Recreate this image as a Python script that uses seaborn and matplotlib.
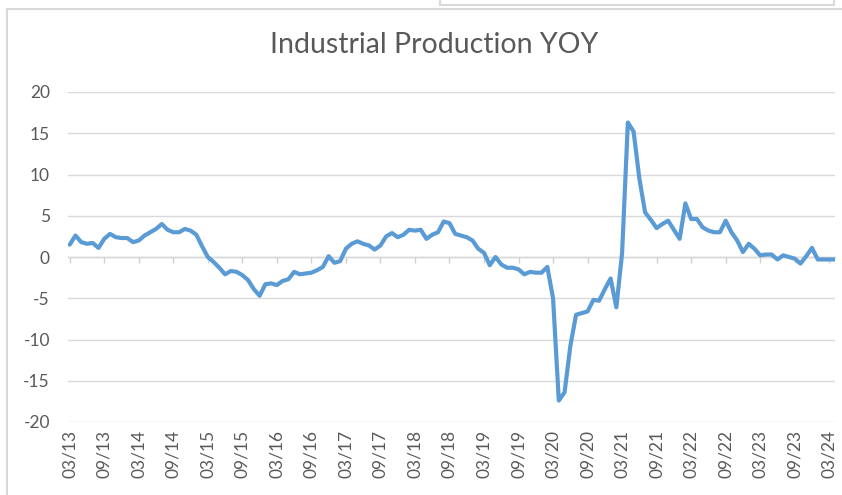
import numpy as np
import pandas as pd
import seaborn as sns
import matplotlib.pyplot as plt
from matplotlib.lines import Line2D

# monthly YoY %, 03/13 .. 04/24
yoy = [1.5, 2.6, 1.8, 1.6, 1.7, 1.1, 2.2, 2.8, 2.4, 2.3, 2.3, 1.8,
       2.0, 2.6, 3.0, 3.4, 4.0, 3.3, 3.0, 3.0, 3.4, 3.2, 2.7, 1.3,
       0.0, -0.6, -1.3, -2.1, -1.7, -1.8, -2.2, -2.8, -3.9, -4.7, -3.3, -3.2,
       -3.4, -2.9, -2.7, -1.8, -2.1, -2.0, -1.9, -1.6, -1.2, 0.1, -0.7, -0.5,
       1.0, 1.6, 1.9, 1.6, 1.4, 0.9, 1.4, 2.5, 2.9, 2.4, 2.7, 3.3,
       3.2, 3.3, 2.2, 2.7, 3.0, 4.3, 4.1, 2.8, 2.6, 2.4, 2.0, 1.0,
       0.5, -1.0, 0.0, -0.9, -1.3, -1.3, -1.5, -2.1, -1.8, -1.9, -1.9, -1.2,
       -5.0, -17.4, -16.4, -10.8, -7.0, -6.8, -6.6, -5.2, -5.3, -3.9, -2.6, -6.1,
       0.5, 16.3, 15.2, 9.5, 5.4, 4.5, 3.5, 4.0, 4.4, 3.3, 2.2, 6.5,
       4.6, 4.6, 3.6, 3.2, 3.0, 3.0, 4.4, 3.0, 2.0, 0.6, 1.6, 1.0,
       0.2, 0.3, 0.3, -0.3, 0.2, 0.0, -0.2, -0.8, 0.1, 1.1, -0.3, -0.3,
       -0.3, -0.3]

tick_labels = ["03/13", "09/13", "03/14", "09/14", "03/15", "09/15", "03/16",
               "09/16", "03/17", "09/17", "03/18", "09/18", "03/19", "09/19",
               "03/20", "09/20", "03/21", "09/21", "03/22", "09/22", "03/23",
               "09/23", "03/24"]
y_ticks = [-20, -15, -10, -5, 0, 5, 10, 15, 20]

df = pd.DataFrame({"month": np.arange(len(yoy)), "yoy": yoy})

sns.set_theme(style="white")
plt.rcParams["font.family"] = ["Lato", "DejaVu Sans"]

W, H = 842, 495
fig = plt.figure(figsize=(W / 100, H / 100), dpi=100)
ax = fig.add_axes([68 / W, 1 - 422 / H, (835 - 68) / W, (422 - 92) / H])

sns.lineplot(data=df, x="month", y="yoy", ax=ax, color="#5b9bd5",
             linewidth=3.0, solid_joinstyle="round", solid_capstyle="round")

ax.set_xlim(-0.3, len(yoy) - 1)
ax.set_ylim(-20, 20)
ax.set_yticks(y_ticks)
ax.set_yticklabels([str(v) for v in y_ticks])
xt = list(range(0, len(yoy), 6))[:len(tick_labels)]
ax.set_xticks(xt)
ax.set_xticklabels(tick_labels, rotation=90)
ax.set_xlabel("")
ax.set_ylabel("")
ax.grid(axis="y", color="#d9d9d9", linewidth=1)
ax.grid(axis="x", visible=False)
for s in ax.spines.values():
    s.set_visible(False)
ax.tick_params(axis="y", length=0, pad=13, labelsize=12.5, labelcolor="#595959")
ax.tick_params(axis="x", length=0, pad=6, labelsize=12.5, labelcolor="#595959")

# horizontal axis drawn at zero with tick marks
sec = ax.secondary_xaxis(0, transform=ax.transData)
sec.set_xticks(xt)
sec.set_xticklabels([])
sec.tick_params(direction="out", length=4, width=1, color="#d0d0d0")
sec.spines["bottom"].set_color("#d0d0d0")
sec.spines["bottom"].set_linewidth(1)

fig.text(434 / W, 1 - 45 / H, "Industrial Production YOY", ha="center",
         va="center", fontsize=20.5, color="#595959")

# chart frame and the box edge above it
frame = dict(transform=fig.transFigure, color="#d9d9d9", linewidth=1.5)
fig.add_artist(Line2D([7 / W, 1], [1 - 9 / H, 1 - 9 / H], **frame))
fig.add_artist(Line2D([7 / W, 7 / W], [1 - 9 / H, 0], **frame))
fig.add_artist(Line2D([440 / W, 834 / W], [1 - 5 / H, 1 - 5 / H], **frame))
fig.add_artist(Line2D([440 / W, 440 / W], [1, 1 - 5 / H], **frame))
fig.add_artist(Line2D([834 / W, 834 / W], [1, 1 - 5 / H], **frame))

fig.savefig("out.png", dpi=100)
